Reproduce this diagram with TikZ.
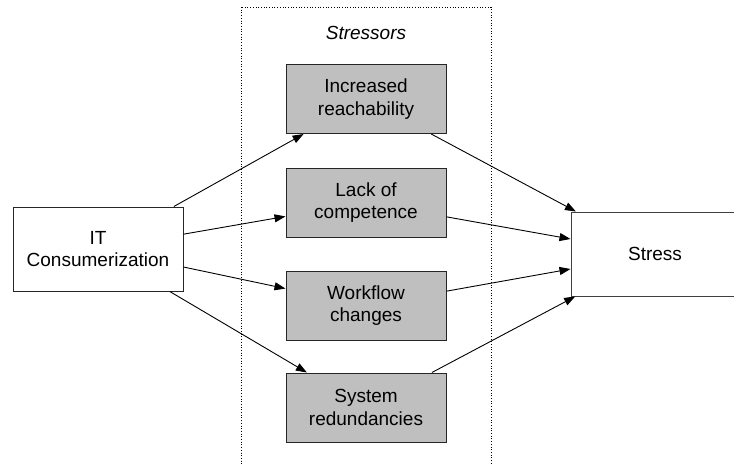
\documentclass[tikz,border=0pt]{standalone}
\usepackage{fontspec}
\setmainfont{Liberation Sans}
\usetikzlibrary{arrows.meta}
\begin{document}
\begin{tikzpicture}[x=1pt,y=-1pt,
  every node/.style={font=\fontsize{19}{22.5}\selectfont, align=center, inner sep=0pt},
  factor/.style={draw=black!85, line width=1pt, fill=white, minimum width=170pt, minimum height=84pt},
  stressor/.style={draw=black!85, line width=1pt, fill=black!25, minimum width=160pt, minimum height=69pt},
  link/.style={draw=black, line width=0.9pt, -{Triangle[length=11pt,width=8pt]}},
  group/.style={draw=black, line width=0.7pt, dotted}]
  \useasboundingbox (0,0) rectangle (734,464);
  \clip (0,0) rectangle (734,464);

  % dotted frame around the stressor group
  \draw[group] (241,7) rectangle (491,472);
  \node (grouptitle) at (366,33) {\itshape Stressors};

  % antecedent and outcome
  \node[factor] (itc) at (98,249) {IT\\Consumerization};
  \node[factor, draw=black!75, minimum width=168pt] (stress) at (655,254) {Stress};

  % stressors
  \node[stressor] (reach) at (366,99)    {Increased\\reachability};
  \node[stressor] (comp)  at (366,202.5) {Lack of\\competence};
  \node[stressor] (work)  at (366,305.5) {Workflow\\changes};
  \node[stressor] (redun) at (366,407.5) {System\\redundancies};

  % relations
  \foreach \s in {reach,comp,work,redun}{
    \draw[link] (itc) -- (\s);
    \draw[link] (\s) -- (stress);
  }
\end{tikzpicture}
\end{document}
